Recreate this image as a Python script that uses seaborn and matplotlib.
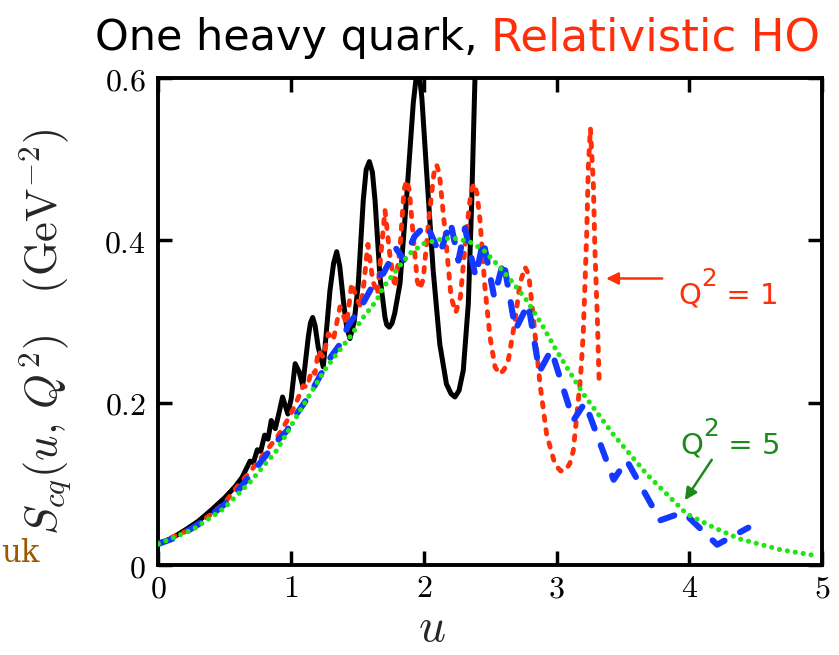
import numpy as np
import pandas as pd
import matplotlib
matplotlib.use('Agg')
import matplotlib.pyplot as plt
import seaborn as sns
from matplotlib.transforms import offset_copy

# ---------------- data ----------------
black_u = [0.00, 0.10, 0.20, 0.30, 0.40, 0.50, 0.58, 0.63, 0.66, 0.69, 0.715, 0.745, 0.77, 0.80,
           0.825, 0.85, 0.88, 0.905, 0.935, 0.975, 1.00, 1.03, 1.06, 1.087, 1.129, 1.145, 1.162,
           1.18, 1.204, 1.242, 1.292, 1.32, 1.343, 1.366, 1.393, 1.418, 1.443, 1.475, 1.506,
           1.543, 1.565, 1.589, 1.612, 1.632, 1.669, 1.707, 1.72, 1.739, 1.76, 1.78, 1.82, 1.87,
           1.92, 1.94, 1.955, 1.97, 1.985, 2.02, 2.07, 2.12, 2.17, 2.205, 2.234, 2.265, 2.297,
           2.335, 2.36, 2.385, 2.41]
black_v = [0.026, 0.033, 0.043, 0.054, 0.068, 0.083, 0.097, 0.108, 0.118, 0.128, 0.126, 0.142,
           0.140, 0.160, 0.155, 0.178, 0.168, 0.185, 0.207, 0.186, 0.205, 0.248, 0.238, 0.221,
           0.281, 0.298, 0.305, 0.295, 0.268, 0.244, 0.338, 0.372, 0.386, 0.368, 0.326, 0.293,
           0.279, 0.300, 0.347, 0.449, 0.487, 0.497, 0.484, 0.449, 0.355, 0.305, 0.296, 0.293,
           0.298, 0.310, 0.347, 0.453, 0.569, 0.598, 0.605, 0.598, 0.575, 0.486, 0.363, 0.272,
           0.223, 0.211, 0.207, 0.215, 0.240, 0.322, 0.445, 0.600, 0.720]

red_u = [0.00, 0.10, 0.20, 0.30, 0.40, 0.50, 0.60, 0.70, 0.80, 0.90, 0.97, 1.03, 1.066, 1.091,
         1.12, 1.154, 1.18, 1.204, 1.242, 1.28, 1.317, 1.368, 1.418, 1.456, 1.49, 1.525, 1.55,
         1.578, 1.615, 1.65, 1.68, 1.707, 1.745, 1.782, 1.82, 1.85, 1.87, 1.89, 1.92, 1.95, 1.97,
         1.995, 2.04, 2.075, 2.096, 2.117, 2.16, 2.205, 2.24, 2.275, 2.32, 2.355, 2.378, 2.40,
         2.423, 2.46, 2.498, 2.536, 2.573, 2.605, 2.636, 2.687, 2.724, 2.762, 2.79, 2.825, 2.875,
         2.925, 2.988, 3.03, 3.063, 3.10, 3.126, 3.151, 3.18, 3.201, 3.227, 3.239, 3.255, 3.277,
         3.289, 3.307, 3.322]
red_v = [0.027, 0.034, 0.041, 0.051, 0.063, 0.077, 0.098, 0.117, 0.138, 0.159, 0.178, 0.197,
         0.211, 0.221, 0.219, 0.240, 0.236, 0.264, 0.256, 0.285, 0.277, 0.318, 0.297, 0.347,
         0.330, 0.318, 0.350, 0.395, 0.350, 0.334, 0.390, 0.437, 0.380, 0.342, 0.390, 0.462,
         0.474, 0.462, 0.405, 0.350, 0.340, 0.352, 0.430, 0.482, 0.493, 0.482, 0.410, 0.330,
         0.311, 0.330, 0.410, 0.460, 0.470, 0.458, 0.425, 0.342, 0.281, 0.244, 0.235, 0.241,
         0.252, 0.301, 0.347, 0.367, 0.358, 0.305, 0.223, 0.161, 0.124, 0.116, 0.116, 0.125,
         0.141, 0.182, 0.230, 0.285, 0.408, 0.490, 0.538, 0.470, 0.388, 0.305, 0.219]

blue_u = [0.00, 0.10, 0.20, 0.30, 0.40, 0.50, 0.60, 0.70, 0.80, 0.90, 0.966, 1.041, 1.129, 1.204,
          1.28, 1.368, 1.43, 1.519, 1.594, 1.644, 1.694, 1.745, 1.79, 1.85, 1.93, 2.02, 2.12,
          2.20, 2.26, 2.31, 2.39, 2.448, 2.53, 2.60, 2.69, 2.787, 2.87, 2.96, 3.126, 3.214,
          3.43, 3.528, 3.78, 3.955, 4.21, 4.445]
blue_v = [0.026, 0.032, 0.040, 0.050, 0.062, 0.075, 0.092, 0.112, 0.133, 0.154, 0.165, 0.186,
          0.207, 0.229, 0.252, 0.272, 0.295, 0.316, 0.338, 0.355, 0.359, 0.375, 0.390, 0.376,
          0.405, 0.420, 0.383, 0.423, 0.375, 0.415, 0.355, 0.400, 0.330, 0.375, 0.290, 0.322,
          0.238, 0.265, 0.178, 0.200, 0.105, 0.129, 0.055, 0.065, 0.025, 0.046]

green_u = [0.00, 0.262, 0.488, 0.69, 0.89, 1.066, 1.268, 1.443, 1.543, 1.644, 1.694, 1.80, 1.895,
           2.00, 2.146, 2.22, 2.347, 2.45, 2.549, 2.66, 2.775, 2.89, 3.00, 3.20, 3.427, 3.679,
           3.98, 4.20, 4.382, 4.683, 4.972]
green_v = [0.026, 0.044, 0.069, 0.102, 0.141, 0.190, 0.244, 0.281, 0.305, 0.326, 0.342, 0.365,
           0.384, 0.396, 0.402, 0.403, 0.398, 0.388, 0.371, 0.350, 0.326, 0.296, 0.264, 0.211,
           0.161, 0.112, 0.063, 0.045, 0.032, 0.019, 0.011]

x_ticks = [0, 1, 2, 3, 4, 5]
x_ticklabels = ['$0$', '$1$', '$2$', '$3$', '$4$', '$5$']
y_ticks = [0, 0.2, 0.4, 0.6]
y_ticklabels = ['$0$', '$0.2$', '$0.4$', '$0.6$']

title_black = "One heavy quark, "
title_red = "Relativistic HO"
ylabel = r"$S_{cq}(u,\,Q^2)\ \ \ (\mathrm{GeV}^{-2})$"
xlabel = r"$u$"
note_q1 = ("Q", "2", " = 1")
note_q5 = ("Q", "2", " = 5")

# ---------------- styling ----------------
sns.set_theme(style='ticks')
plt.rcParams['font.family'] = ['DejaVu Sans']
plt.rcParams['mathtext.fontset'] = 'cm'

RED = '#ff2f0a'
BLUE = '#1438ff'
GREEN = '#22e414'
DKGREEN = '#1b8a1b'

fig = plt.figure(figsize=(8.39, 6.55), dpi=100)
ax = fig.add_axes([0.1889, 0.1374, 0.7908, 0.7435])

def draw(u, v, color, lw, dashes=None, z=2):
    df = pd.DataFrame({'u': u, 'v': v})
    sns.lineplot(data=df, x='u', y='v', ax=ax, color=color, lw=lw, estimator=None,
                 sort=False, legend=False, zorder=z)
    line = ax.lines[-1]
    line.set_solid_capstyle('round')
    line.set_solid_joinstyle('round')
    if dashes is not None:
        line.set_dashes(dashes)
        line.set_dash_capstyle('round')
    return line

draw(black_u, black_v, 'black', 3.6, z=2)
draw(red_u, red_v, RED, 3.5, dashes=(0.9, 1.9), z=3)
draw(blue_u, blue_v, BLUE, 4.4, dashes=(2.4, 2.9), z=4)
draw(green_u, green_v, GREEN, 3.7, dashes=(0.01, 1.55), z=5)

ax.set_xlim(0, 5)
ax.set_ylim(0, 0.6)
ax.set_xticks(x_ticks)
ax.set_xticklabels(x_ticklabels)
ax.set_yticks(y_ticks)
ax.set_yticklabels(y_ticklabels)
ax.set_xlabel('')
ax.set_ylabel('')
ax.tick_params(direction='in', length=10, width=2.5, top=True, right=True,
               labelsize=23, colors='black')
ax.tick_params(axis='x', pad=6)
ax.tick_params(axis='y', pad=9)
for s in ax.spines.values():
    s.set_linewidth(2.8)
    s.set_color('black')
    s.set_visible(True)

fig.canvas.draw()
renderer = fig.canvas.get_renderer()

def q_note(x, y, parts, color, size):
    base, sup, rest = parts
    t = ax.text(x, y, base, color=color, fontsize=size, va='baseline', ha='left')
    w = t.get_window_extent(renderer=renderer).width
    tr = offset_copy(ax.transData, fig=fig, x=w * 72 / fig.dpi, y=size * 0.62, units='points')
    t2 = ax.text(x, y, sup, color=color, fontsize=size * 0.85, va='baseline', ha='left',
                 transform=tr)
    w2 = t2.get_window_extent(renderer=renderer).width
    tr3 = offset_copy(ax.transData, fig=fig, x=(w + w2) * 72 / fig.dpi, y=0, units='points')
    ax.text(x, y, rest, color=color, fontsize=size, va='baseline', ha='left', transform=tr3)

# annotations
ax.annotate('', xy=(3.352, 0.353), xytext=(3.817, 0.353),
            arrowprops=dict(arrowstyle='-|>', color=RED, lw=1.8, mutation_scale=18))
q_note(3.915, 0.322, note_q1, RED, 21)
ax.annotate('', xy=(3.955, 0.077), xytext=(4.181, 0.1325),
            arrowprops=dict(arrowstyle='-|>', color=DKGREEN, lw=1.8, mutation_scale=18))
q_note(3.93, 0.137, note_q5, DKGREEN, 21)

# labels
fig.text(45 / 839, 1 - 332 / 655, ylabel, rotation=90, ha='center', va='center', fontsize=32)
fig.text(432 / 839, 1 - 628 / 655, xlabel, ha='center', va='center', fontsize=34)
fig.text(1 / 839, 1 - 553 / 655, 'uk', ha='left', va='center', fontsize=22,
         color='#9c5a00', family='DejaVu Serif')

# title in two colours
t1 = fig.text(95 / 839, 1 - 38 / 655, title_black, ha='left', va='center', fontsize=31,
              color='black')
bb = t1.get_window_extent(renderer=renderer)
t2 = fig.text(bb.x1 / fig.bbox.width - 0.001, 1 - 38 / 655, title_red, ha='left', va='center',
              fontsize=32.5, color=RED)

fig.savefig('out.png', dpi=100)
